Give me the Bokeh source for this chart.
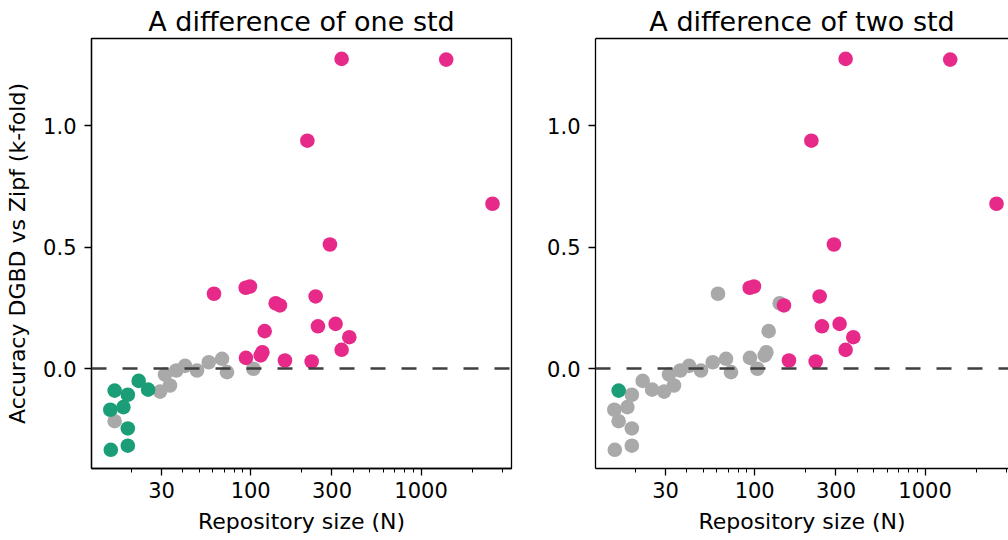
from bokeh.plotting import figure
from bokeh.layouts import row
from bokeh.models import (Range1d, FixedTicker, Span, LinearAxis,
                          PrintfTickFormatter)
from bokeh.embed import file_html
from bokeh.resources import INLINE

# Repository size N and accuracy difference (DGBD minus Zipf, k-fold)
repo_size = [15.1, 19.0, 15.9, 19.0, 15.0, 17.9, 19.0, 22.0, 25.0,
             15.9, 29.4, 33.6, 31.4, 36.6, 41.2, 48.4, 56.7, 67.9, 72.6, 103.7,
             60.9, 93.5, 99.0, 140.2, 148.5, 120.8, 117.1, 114.5, 93.8, 158.9,
             228.0, 240.6, 248.2, 315.1, 379.2, 341.8, 291.8, 215.1, 341.8,
             1405.0, 2627.0]
acc_diff = [-0.335, -0.318, -0.091, -0.108, -0.170, -0.159, -0.247, -0.051, -0.087,
            -0.217, -0.095, -0.070, -0.025, -0.008, 0.011, -0.008, 0.026, 0.040, -0.015, -0.001,
            0.308, 0.333, 0.338, 0.269, 0.260, 0.154, 0.067, 0.054, 0.044, 0.033,
            0.029, 0.297, 0.174, 0.184, 0.129, 0.077, 0.511, 0.939, 1.276,
            1.273, 0.679]

# Which model wins when a difference of one / two std is required
winner_one_std = ["Zipf"] * 9 + ["n.s."] * 11 + ["DGBD"] * 21
winner_two_std = (["n.s.", "n.s.", "Zipf", "n.s.", "n.s.", "n.s.", "n.s.", "n.s.", "n.s."]
                  + ["n.s."] * 11
                  + ["n.s.", "DGBD", "DGBD", "n.s.", "DGBD", "n.s.", "n.s.", "n.s.", "n.s.", "DGBD",
                     "DGBD", "DGBD", "DGBD", "DGBD", "DGBD", "DGBD", "DGBD", "DGBD", "DGBD",
                     "DGBD", "DGBD"])

panel_titles = ["A difference of one std", "A difference of two std"]
x_label = "Repository size (N)"
y_label = "Accuracy DGBD vs Zipf (k-fold)"
x_major_ticks = [30, 100, 300, 1000]
x_minor_ticks = [20, 40, 50, 60, 70, 80, 90, 200, 400, 500, 600, 700, 800, 900, 2000, 3000]
y_major_ticks = [0.0, 0.5, 1.0]

colors = {"n.s.": "#a9a9a9", "Zipf": "#1b9e77", "DGBD": "#e7298a"}
draw_order = ["n.s.", "Zipf", "DGBD"]

FONT = "DejaVu Sans"


def style_axis(ax):
    ax.axis_line_color = "black"
    ax.axis_line_width = 1.3
    ax.major_tick_line_color = "black"
    ax.major_tick_line_width = 1.3
    ax.major_tick_out = 7
    ax.major_tick_in = 0
    ax.minor_tick_line_color = "black"
    ax.minor_tick_line_width = 1.0
    ax.minor_tick_out = 4
    ax.minor_tick_in = 0
    ax.major_label_text_font = FONT
    ax.major_label_text_font_size = "21px"
    ax.major_label_text_color = "black"
    ax.axis_label_text_font = FONT
    ax.axis_label_text_font_size = "22px"
    ax.axis_label_text_font_style = "normal"
    ax.axis_label_text_color = "black"


def make_panel(title, winners, width, border_left, border_right, x_end, with_ylabel, boxed):
    p = figure(width=width, height=540, x_axis_type="log",
               x_range=Range1d(11.63, x_end), y_range=Range1d(-0.412, 1.36),
               output_backend="svg", toolbar_location=None,
               min_border_left=border_left, min_border_right=border_right,
               min_border_top=38, min_border_bottom=72,
               background_fill_color="white", border_fill_color="white")
    p.title.text = title
    p.title.text_font = FONT
    p.title.text_font_size = "27px"
    p.title.text_font_style = "normal"
    p.title.text_color = "black"
    p.title.align = "center"
    p.title.standoff = 3

    p.xgrid.visible = False
    p.ygrid.visible = False

    p.xaxis.ticker = FixedTicker(ticks=x_major_ticks, minor_ticks=x_minor_ticks)
    p.xaxis.formatter = PrintfTickFormatter(format="%d")
    p.xaxis.axis_label = x_label
    p.xaxis.major_label_standoff = 6
    p.xaxis.axis_label_standoff = 8
    p.yaxis.ticker = FixedTicker(ticks=y_major_ticks, minor_ticks=[])
    p.yaxis.formatter = PrintfTickFormatter(format="%.1f")
    p.yaxis.major_label_standoff = 8
    if with_ylabel:
        p.yaxis.axis_label = y_label
        p.yaxis.axis_label_standoff = 10
    style_axis(p.xaxis[0])
    style_axis(p.yaxis[0])

    if boxed:
        p.outline_line_color = "black"
        p.outline_line_width = 1.3
        p.outline_line_alpha = 1.0
    else:
        # open on the right: only the top edge is added as a bare axis line
        p.outline_line_color = None
        top = LinearAxis(ticker=FixedTicker(ticks=[]), major_tick_out=0, minor_tick_out=0,
                         major_label_text_font_size="0px", axis_line_color="black",
                         axis_line_width=1.3)
        p.add_layout(top, "above")

    p.add_layout(Span(location=0, dimension="width", line_color="#3f3f3f",
                      line_width=2.6, line_dash="15 16"))

    for cat in draw_order:
        xs = [x for x, w in zip(repo_size, winners) if w == cat]
        ys = [y for y, w in zip(acc_diff, winners) if w == cat]
        p.scatter(xs, ys, size=14.6, fill_color=colors[cat], line_color=None)
    return p


left = make_panel(panel_titles[0], winner_one_std, 530, 91, 19, 3396, True, True)
right = make_panel(panel_titles[1], winner_two_std, 478, 65, 0, 3089, False, False)
right.title.offset = 4

layout = row(left, right)
open("out.html", "w").write(file_html(layout, INLINE))
